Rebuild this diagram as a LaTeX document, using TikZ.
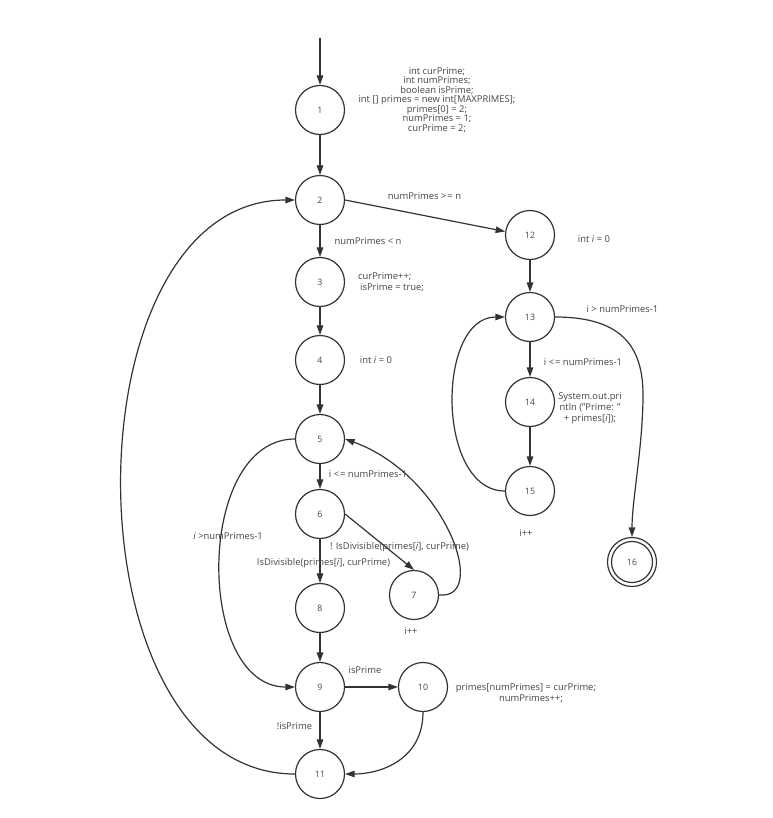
\documentclass[tikz,border=0pt]{standalone}
\usepackage{fontspec}
\setmainfont{Open Sans}
\usetikzlibrary{arrows.meta}
\definecolor{ln}{HTML}{333333}
\definecolor{tx}{HTML}{444444}
\begin{document}
\begin{tikzpicture}[x=1pt,y=-1pt,
  st/.style={circle,draw=ln,line width=1.2pt,minimum size=49pt,inner sep=0pt,font=\fontsize{8.8}{10}\selectfont,text=tx},
  ar/.style={draw=ln,line width=1.2pt,-{Triangle[length=9.5pt,width=6.5pt]}},
  lb/.style={font=\fontsize{9.4}{11.6}\selectfont,text=tx,inner sep=0pt,align=center}]
\useasboundingbox (0,0) rectangle (772,818);
% states
\node[st] (n1) at (320,110) {1};
\node[st] (n2) at (320,200) {2};
\node[st] (n3) at (320,282) {3};
\node[st] (n4) at (320,360) {4};
\node[st] (n5) at (320,439) {5};
\node[st] (n6) at (320,514) {6};
\node[st] (n7) at (414,595) {7};
\node[st] (n8) at (320,608) {8};
\node[st] (n9) at (320,687) {9};
\node[st] (n10) at (423,687) {10};
\node[st] (n11) at (320,774) {11};
\node[st] (n12) at (530,235) {12};
\node[st] (n13) at (530,317) {13};
\node[st] (n14) at (530,402) {14};
\node[st] (n15) at (530,491) {15};
\node[st] (n16) at (632,562) {16};
\draw[draw=ln,line width=1.2pt] (n16.center) circle (20.5pt);
\coordinate (start) at (320,38);
\coordinate (bend) at (643,395);
% connectors
\draw[ar] (start) -- (n1);
\draw[ar] (n1) -- (n2);
\draw[ar] (n2) -- (n3);
\draw[ar] (n3) -- (n4);
\draw[ar] (n4) -- (n5);
\draw[ar] (n5) -- (n6);
\draw[ar] (n6) -- (n8);
\draw[ar] (n8) -- (n9);
\draw[ar] (n9) -- (n10);
\draw[ar] (n9) -- (n11);
\draw[ar] (n12) -- (n13);
\draw[ar] (n13) -- (n14);
\draw[ar] (n14) -- (n15);
\draw[ar] (n2.east) -- (n12.172);
\draw[ar] (n6.east) -- (n7.north);
\draw[ar] (n7.east) .. controls (490,600) and (445,475) .. (n5.east);
\draw[ar] (n5.west) .. controls (195,439) and (195,687) .. (n9.west);
\draw[ar] (n11.west) .. controls (64,774) and (64,200) .. (n2.west);
\draw[ar] (n10.south) .. controls (423,760) and (380,774) .. (n11.east);
\draw[ar] (n15.west) .. controls (436,491) and (436,317) .. (n13.west);
\draw[ar] (n13.east) .. controls (620,317) and (643,345) .. (bend) .. controls (643,445) and (632,500) .. (n16.north);
% labels
\node[lb,font=\fontsize{9.4}{9.45}\selectfont] (t1) at (437,100) {int curPrime;\\int numPrimes;\\boolean isPrime;\\int [] primes = new int[MAXPRIMES];\\primes[0] = 2;\\numPrimes = 1;\\curPrime = 2;};
\node[lb] (t2) at (424.5,196.5) {numPrimes >\kern1pt= n};
\node[lb] (t3) at (368,241.5) {numPrimes < n};
\node[lb,align=left,anchor=west,font=\fontsize{9.4}{10.6}\selectfont] (t4) at (358,282) {curPrime++;\\\hspace{2pt}isPrime = true;};
\node[lb] (t5) at (376,360) {int \textit{i} = 0};
\node[lb] (t6) at (594,239) {int \textit{i} = 0};
\node[lb] (t7) at (622.5,309.5) {i > numPrimes-1};
\node[lb] (t8) at (583,362.5) {i <\kern1pt= numPrimes-1};
\node[lb,font=\fontsize{9.4}{10.9}\selectfont] (t9) at (590,408) {System.out.pri\\ntln ("Prime: "\\+ primes[\textit{i}]);};
\node[lb] (t10) at (526,533) {i++};
\node[lb] (t11) at (368,474) {i <\kern1pt= numPrimes-1};
\node[lb] (t12) at (228,536) {\textit{i} >numPrimes-1};
\node[lb] (t13) at (399.5,547) {! IsDivisible(primes[\textit{i}], curPrime)};
\node[lb] (t14) at (323.5,563) {IsDivisible(primes[\textit{i}], curPrime)};
\node[lb] (t15) at (411,631) {i++};
\node[lb] (t16) at (365,670.5) {isPrime};
\node[lb] (t17) at (294.5,726) {!isPrime};
\node[lb] (t18) at (526,693) {primes[numPrimes] = curPrime;\\\hspace{10pt}numPrimes++;};
\end{tikzpicture}
\end{document}
